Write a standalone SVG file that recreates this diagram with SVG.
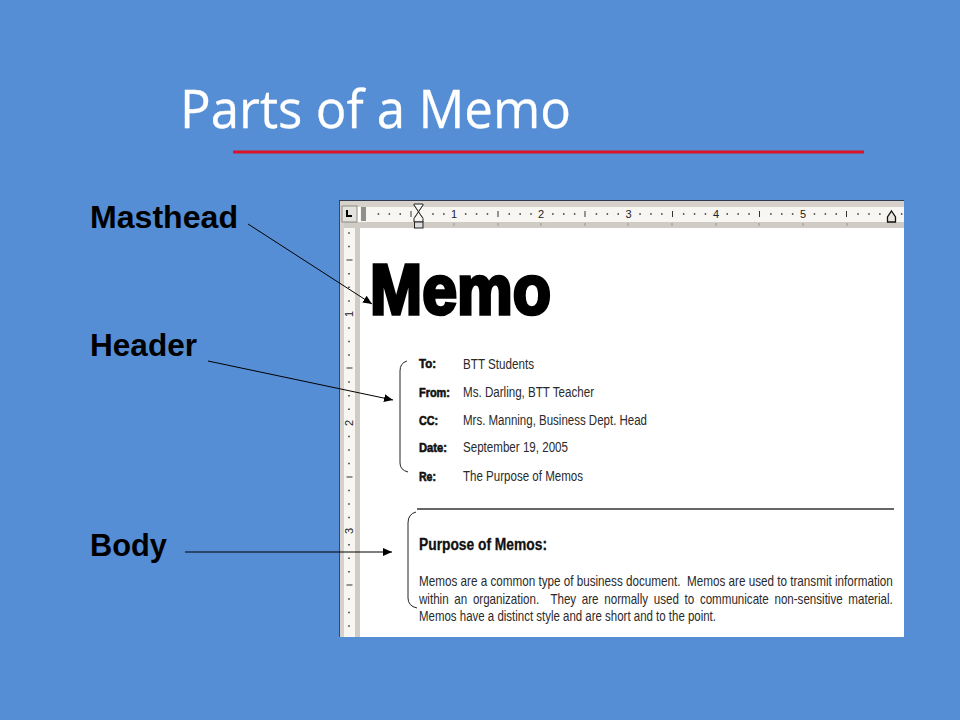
<svg xmlns="http://www.w3.org/2000/svg" width="960" height="720" viewBox="0 0 960 720">
<style>
text{font-family:"Liberation Sans",Arial,sans-serif}
.label{font-size:32px;font-weight:bold;fill:#000}
.k{font-size:13px;font-weight:bold;fill:#111;stroke:#111;stroke-width:.6}
.v{font-size:14px;fill:#2a2a2a}
.p{font-size:14px;fill:#2a2a2a}
.rn{font-size:11px;fill:#222}
.conn{fill:none;stroke:#000;stroke-width:1;marker-end:url(#arrow)}
.brace{fill:none;stroke:#222;stroke-width:1}
</style>
<defs>
<marker id="arrow" markerUnits="userSpaceOnUse" markerWidth="10" markerHeight="9" refX="9" refY="4" orient="auto">
<path d="M0 0L9 4L0 8Z" fill="#000"/>
</marker>
</defs>
<rect width="960" height="720" fill="#558ed5"/>
<g id="title">
<text x="180" y="128" font-size="53" fill="#fff" stroke="#fff" stroke-width=".3" style="font-family:'Open Sans','Liberation Sans',sans-serif" textLength="391" lengthAdjust="spacingAndGlyphs">Parts of a Memo</text>
<line x1="233" y1="152" x2="864" y2="152" stroke="#d8142a" stroke-width="3"/>
</g>
<g id="masthead-label"><text class="label" x="90" y="228" textLength="148" lengthAdjust="spacingAndGlyphs">Masthead</text></g>
<g id="header-label"><text class="label" x="90" y="356" textLength="107" lengthAdjust="spacingAndGlyphs">Header</text></g>
<g id="body-label"><text class="label" x="90" y="556" textLength="77" lengthAdjust="spacingAndGlyphs">Body</text></g>
<g id="document">
<rect x="339" y="200" width="565" height="437" fill="#fff"/>
<rect x="339" y="200" width="565" height="1.5" fill="#2f3a50"/>
<rect x="339" y="201" width="565" height="6" fill="#d6d2cb"/>
<rect x="339" y="201" width="1.5" height="436" fill="#3a4560"/>
<rect x="340" y="201" width="4" height="436" fill="#d6d2cb"/>
<rect x="360" y="207" width="544" height="15" fill="#f7f6f3"/>
<rect x="344" y="222" width="560" height="6" fill="#d0cbc4"/>
<rect x="344" y="228" width="11" height="409" fill="#f7f6f3"/>
<rect x="355" y="222" width="5" height="415" fill="#d0cbc4"/>
<rect x="342" y="206" width="15" height="16" fill="#e4e2dc" stroke="#8a8a84"/>
<path d="M347 210v6h5" fill="none" stroke="#000" stroke-width="2"/>
<rect x="361" y="207" width="5" height="14" fill="#8f8f8c"/>
<path stroke="#333" stroke-width="1.5" fill="none" d="M377.700 214h1.500M388.600 214h1.500M399.500 214h1.500M432.200 214h1.500M443.100 214h1.500M464.900 214h1.500M475.800 214h1.500M486.700 214h1.500M508.500 214h1.500M519.400 214h1.500M530.300 214h1.500M552.100 214h1.500M563 214h1.500M573.900 214h1.500M595.700 214h1.500M606.600 214h1.500M617.500 214h1.500M639.300 214h1.500M650.200 214h1.500M661.100 214h1.500M682.900 214h1.500M693.800 214h1.500M704.700 214h1.500M726.500 214h1.500M737.400 214h1.500M748.300 214h1.500M770.100 214h1.500M781 214h1.500M791.900 214h1.500M813.700 214h1.500M824.600 214h1.500M835.500 214h1.500M857.300 214h1.500M868.200 214h1.500M879.100 214h1.500M900.900 214h1.500"/>
<path stroke="#333" stroke-width="1" fill="none" d="M411 211v6M498 211v6M585 211v6M672.500 211v6M759.500 211v6M846.500 211v6"/>
<path stroke="#999" stroke-width="1" fill="none" d="M454 223v3M498 223v3M541 223v3M585 223v3M628 223v3M672 223v3M716 223v3M759 223v3M803 223v3M847 223v3"/>
<text class="rn" x="454" y="218" text-anchor="middle">1</text>
<text class="rn" x="541" y="218" text-anchor="middle">2</text>
<text class="rn" x="628.500" y="218" text-anchor="middle">3</text>
<text class="rn" x="716" y="218" text-anchor="middle">4</text>
<text class="rn" x="803" y="218" text-anchor="middle">5</text>
<path d="M414 204h9v1l-4.500 7l4.500 6.500v3.500h-9v-3.500l4.500-6.500l-4.500-7z" fill="#f7f6f3" stroke="#222"/>
<path d="M414 205l9 13M423 205l-9 13" fill="none" stroke="#444" stroke-width=".7"/>
<rect x="414.500" y="222" width="8.500" height="6" fill="#ddd" stroke="#222"/>
<path d="M891.500 211l4 6v5h-8v-5z" fill="#e8e6e0" stroke="#111" stroke-width="1.300"/>
<path stroke="#333" stroke-width="1.5" fill="none" d="M348.200 233h1.500M348.200 246.600h1.500M348.200 273.800h1.500M348.200 287.300h1.500M348.200 300.900h1.500M348.200 328h1.500M348.200 341.500h1.500M348.200 355h1.500M348.200 382h1.500M348.200 395.700h1.500M348.200 409.300h1.500M348.200 436.400h1.500M348.200 450h1.500M348.200 463.500h1.500M348.200 490.500h1.500M348.200 504h1.500M348.200 517.600h1.500M348.200 544.700h1.500M348.200 558.300h1.500M348.200 571.800h1.500M348.200 599h1.500M348.200 612.500h1.500M348.200 626h1.500"/>
<path stroke="#333" stroke-width="1" fill="none" d="M346.500 260h6M346.500 368h6M346.500 477h6M346.500 585h6"/>
<text class="rn" transform="translate(353 314) rotate(-90)" text-anchor="middle">1</text>
<text class="rn" transform="translate(353 423) rotate(-90)" text-anchor="middle">2</text>
<text class="rn" transform="translate(353 531) rotate(-90)" text-anchor="middle">3</text>
</g>
<g id="memo-masthead">
<text x="370" y="314" font-size="71" font-weight="bold" fill="#000" stroke="#000" stroke-width="3.500" textLength="181" lengthAdjust="spacingAndGlyphs">Memo</text>
</g>
<g id="memo-header">
<path class="brace" d="M407 361Q400 363 400 371V463Q400 470 408 472"/>
<text class="k" x="419" y="368" textLength="17" lengthAdjust="spacingAndGlyphs">To:</text>
<text class="v" x="463" y="369" textLength="71" lengthAdjust="spacingAndGlyphs">BTT Students</text>
<text class="k" x="419" y="397" textLength="31" lengthAdjust="spacingAndGlyphs">From:</text>
<text class="v" x="463" y="397" textLength="131" lengthAdjust="spacingAndGlyphs">Ms. Darling, BTT Teacher</text>
<text class="k" x="419" y="425" textLength="19" lengthAdjust="spacingAndGlyphs">CC:</text>
<text class="v" x="463" y="425" textLength="184" lengthAdjust="spacingAndGlyphs">Mrs. Manning, Business Dept. Head</text>
<text class="k" x="419" y="452" textLength="28" lengthAdjust="spacingAndGlyphs">Date:</text>
<text class="v" x="463" y="452" textLength="105" lengthAdjust="spacingAndGlyphs">September 19, 2005</text>
<text class="k" x="419" y="481" textLength="17" lengthAdjust="spacingAndGlyphs">Re:</text>
<text class="v" x="463" y="481" textLength="120" lengthAdjust="spacingAndGlyphs">The Purpose of Memos</text>
</g>
<g id="memo-body">
<line x1="417" y1="509" x2="894" y2="509" stroke="#333" stroke-width="1.300"/>
<path class="brace" d="M416 512Q408 514 408 523V598Q408 606 417 608"/>
<text x="419" y="550" font-size="16" font-weight="bold" fill="#111" stroke="#111" stroke-width=".3" textLength="128" lengthAdjust="spacingAndGlyphs">Purpose of Memos:</text>
<text class="p" transform="matrix(.84 0 0 1 419 586)" textLength="564" lengthAdjust="spacingAndGlyphs" xml:space="preserve">Memos are a common type of business document.  Memos are used to transmit information</text>
<text class="p" transform="matrix(.84 0 0 1 419 604)" word-spacing="3" textLength="564" lengthAdjust="spacingAndGlyphs" xml:space="preserve">within an organization.  They are normally used to communicate non-sensitive material.</text>
<text class="p" x="419" y="621" textLength="297" lengthAdjust="spacingAndGlyphs">Memos have a distinct style and are short and to the point.</text>
</g>
<g id="connectors">
<line class="conn" x1="248" y1="224" x2="372" y2="304"/>
<line class="conn" x1="208" y1="361" x2="393" y2="400"/>
<line class="conn" x1="185" y1="552" x2="392" y2="552"/>
</g>
</svg>
